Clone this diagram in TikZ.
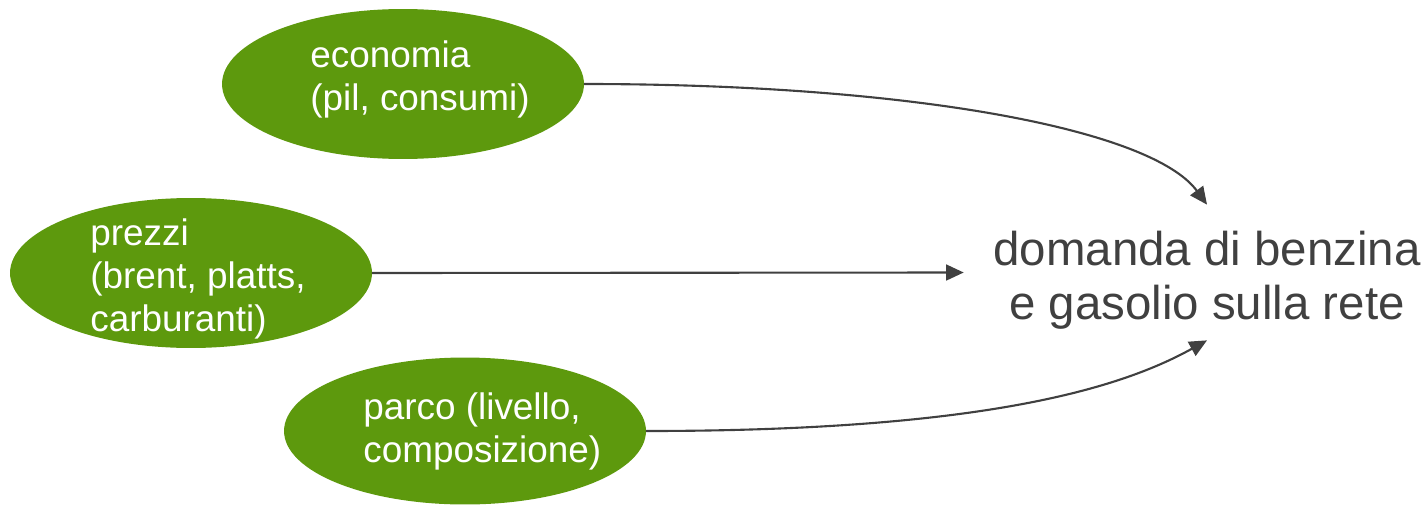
\documentclass[tikz,border=0pt]{standalone}
\usepackage{fontspec}
\setmainfont{Liberation Sans}
\usetikzlibrary{shapes.geometric,arrows.meta}
\definecolor{leaf}{RGB}{93,153,13}
\definecolor{ink}{RGB}{64,64,64}
\begin{document}
\begin{tikzpicture}[x=0.02cm,y=-0.02cm,
  blob/.style={ellipse, fill=leaf, inner sep=0pt, outer sep=0pt,
    minimum width=7.24cm, minimum height=3cm},
  blobtext/.style={text=white, align=left, inner sep=0pt, anchor=base west,
    font=\fontsize{21pt}{24.4pt}\selectfont},
  link/.style={draw=ink, line width=1.2pt, -{Triangle[length=10pt,width=9pt]}}]
\useasboundingbox (0,0) rectangle (1425,507);
\node[blob] (economia) at (403,84) {};
\node[blob] (prezzi) at (191,273) {};
\node[blob, minimum height=2.94cm] (parco) at (465,431) {};
\node[blobtext] (economiatext) at (310,110) {economia\\(pil, consumi)};
\node[blobtext] (prezzitext) at (90,331) {prezzi\\(brent, platts,\\carburanti)};
\node[blobtext] (parcotext) at (363,462) {parco (livello,\\composizione)};
\node[text=ink, align=center, inner sep=0pt, minimum width=9.72cm, minimum height=2.7cm,
  font=\fontsize{27pt}{30.6pt}\selectfont] (domanda) at (1207,280)
  {domanda di benzina\\e gasolio sulla rete};
\draw[link] (economia.east) .. controls +(330,0) and +(-55,-75) .. ([yshift=0.15cm]domanda.north);
\draw[link] (prezzi.east) -- ([yshift=0.15cm]domanda.west);
\draw[link] (parco.east) .. controls +(330,0) and +(-90,50) .. ([yshift=0.15cm]domanda.south);
\end{tikzpicture}
\end{document}
